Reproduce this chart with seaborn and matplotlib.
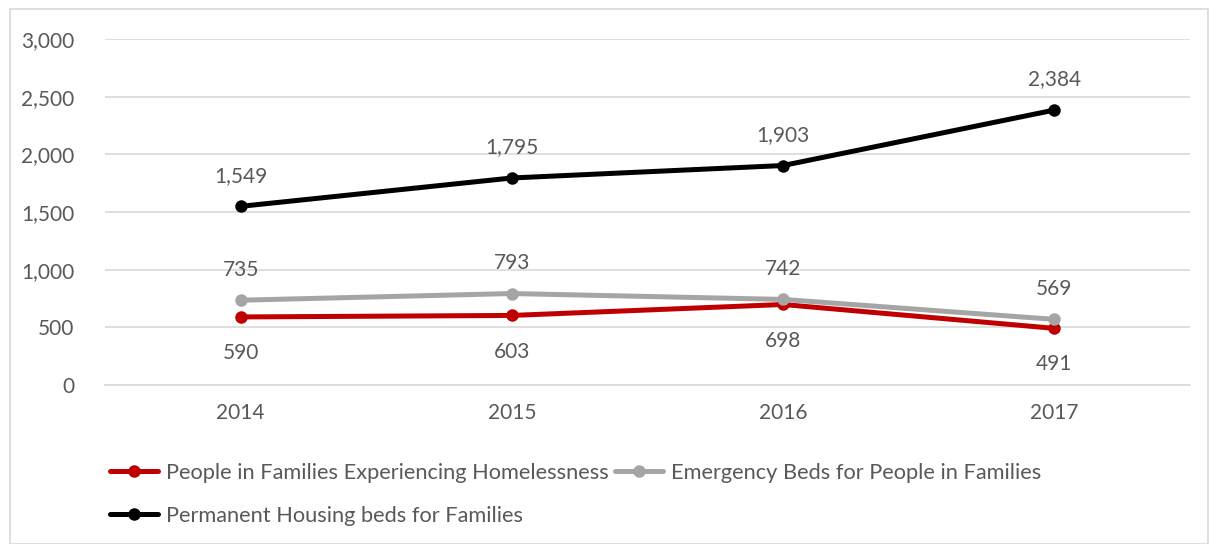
import matplotlib
matplotlib.use("Agg")
import matplotlib.pyplot as plt
import seaborn as sns
import pandas as pd
from matplotlib.patches import Rectangle
from matplotlib.ticker import FuncFormatter

years = ["2014", "2015", "2016", "2017"]
people_in_families = [590, 603, 698, 491]
emergency_beds = [735, 793, 742, 569]
permanent_beds = [1549, 1795, 1903, 2384]

series_names = [
    "People in Families Experiencing Homelessness",
    "Emergency Beds for People in Families",
    "Permanent Housing beds for Families",
]
series_values = [people_in_families, emergency_beds, permanent_beds]
series_colors = ["#c00000", "#a5a5a5", "#000000"]
label_above = [False, True, True]

sns.set_theme(style="white")
plt.rcParams["font.family"] = ["Lato", "DejaVu Sans"]
text_color = "#595959"

fig = plt.figure(figsize=(12.09, 5.44), dpi=100)
ax = fig.add_axes([0.0868, 0.2923, 0.8975, 0.636])

# outer chart border
fig.patches.append(Rectangle((10 / 1209, 0.0), 1198 / 1209, 1 - 9 / 544,
                             transform=fig.transFigure, fill=False,
                             edgecolor="#d9d9d9", linewidth=1.2))

x_pos = list(range(len(years)))
for name, vals, col, above in zip(series_names, series_values, series_colors, label_above):
    df = pd.DataFrame({"x": x_pos, "y": vals})
    sns.lineplot(data=df, x="x", y="y", ax=ax, color=col, linewidth=3.6,
                 marker="o", markersize=9, markeredgewidth=0, label=name)
    for xi, v in zip(x_pos, vals):
        dy = 22 if above else -26
        ax.annotate(f"{v:,}", (xi, v), xytext=(0, dy), textcoords="offset points",
                    ha="center", va="center", fontsize=15, color=text_color)

ax.set_xlim(-0.5, 3.5)
ax.set_ylim(0, 3000)
ax.set_yticks(range(0, 3001, 500))
ax.yaxis.set_major_formatter(FuncFormatter(lambda v, p: f"{int(v):,}"))
ax.set_xticks(x_pos)
ax.set_xticklabels(years)
ax.set_xlabel("")
ax.set_ylabel("")
ax.grid(axis="y", color="#d9d9d9", linewidth=1.2)
ax.set_axisbelow(True)
for side in ["top", "right", "left"]:
    ax.spines[side].set_visible(False)
ax.spines["bottom"].set_color("#d9d9d9")
ax.spines["bottom"].set_linewidth(1.2)
ax.tick_params(axis="both", length=0, labelsize=15, labelcolor=text_color)
ax.tick_params(axis="y", pad=22)
ax.tick_params(axis="x", pad=13)

h, l = ax.get_legend_handles_labels()
order = [0, 2, 1]
ax.legend([h[i] for i in order], [l[i] for i in order], ncol=2,
          loc="upper left", bbox_to_anchor=(-0.003, -0.2), frameon=False,
          fontsize=15.7, labelcolor=text_color, handlelength=2.2,
          handletextpad=0.35, columnspacing=0.3, labelspacing=1.05,
          borderaxespad=0)

fig.savefig("out.png", dpi=100)
